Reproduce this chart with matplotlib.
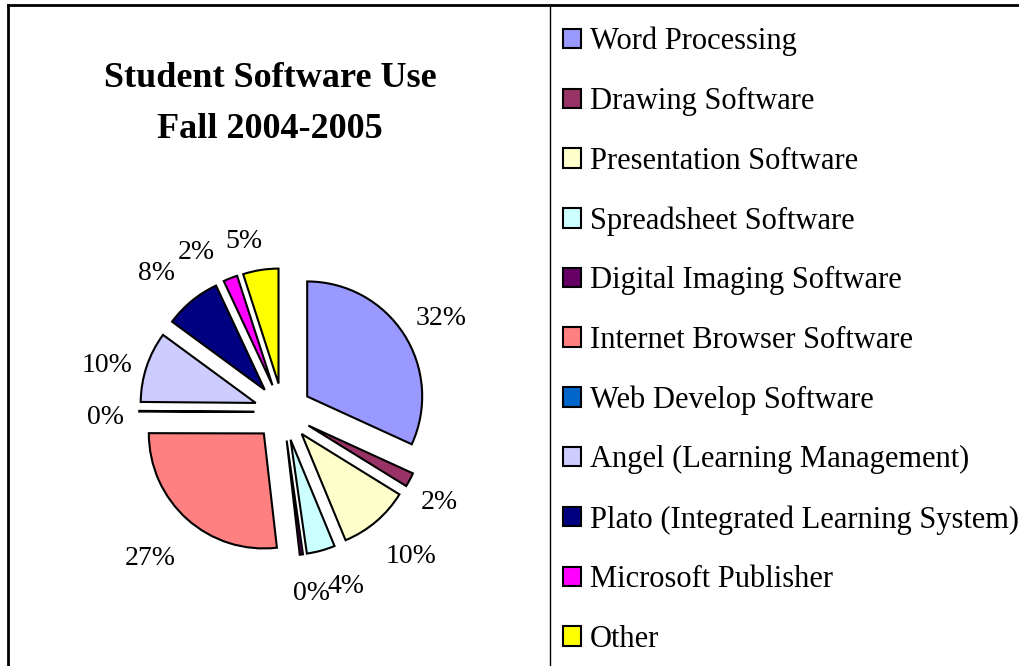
import matplotlib.pyplot as plt
import numpy as np
from matplotlib.patches import Patch
from matplotlib.lines import Line2D

# data (percent of use)
categories = ['Word Processing', 'Drawing Software', 'Presentation Software',
              'Spreadsheet Software', 'Digital Imaging Software',
              'Internet Browser Software', 'Web Develop Software',
              'Angel (Learning Management)', 'Plato (Integrated Learning System)',
              'Microsoft Publisher', 'Other']
shares = [32, 2, 10, 4, 0.45, 27, 0.1, 10, 8, 2, 5]
colors = ['#9999FF', '#993366', '#FFFFCC', '#CCFFFF', '#660066', '#FF8080',
          '#0066CC', '#CCCCFF', '#000080', '#FF00FF', '#FFFF00']
title_lines = ['Student Software Use', 'Fall 2004-2005']
# label placement as Excel did it: angle shift (deg) and distance (radii)
label_nudge = [-2, -2, 1, 4.5, 1.5, -0.5, 2, 3.5, 3, 7, 4]
label_dist = [1.60, 1.57, 1.68, 1.61, 1.60, 1.72, 1.54, 1.58, 1.63, 1.58, 1.52]

plt.rcParams['font.family'] = ['Liberation Serif', 'DejaVu Serif']

W, H = 1020, 666
R = 115.0          # pie radius, px
cx, cy = 283, 412  # pie centre, px from top-left

fig = plt.figure(figsize=(W / 100, H / 100), dpi=100)
ax = fig.add_axes([8 / W, 0, (550 - 8) / W, (H - 5) / H])
wedges, _ = ax.pie(shares, colors=colors, startangle=90, counterclock=False,
                   explode=[0.25] * len(shares),
                   wedgeprops=dict(edgecolor='black', linewidth=1.5,
                                   joinstyle='miter'))
ax.set_aspect('auto')
ax.set_xlim((8 - cx) / R, (550 - cx) / R)
ax.set_ylim((cy - H) / R, (cy - 5) / R)
ax.axis('off')

total = sum(shares)
for w, v, nd, d in zip(wedges, shares, label_nudge, label_dist):
    mid = np.deg2rad((w.theta1 + w.theta2) / 2 + nd)
    ax.text(d * np.cos(mid), d * np.sin(mid), f"{round(v / total * 100):.0f}%",
            ha='center', va='center', fontsize=20)

# title
fig.text(270 / W, 1 - 87 / H, title_lines[0], ha='center', va='baseline',
         fontsize=26, weight='bold')
fig.text(270 / W, 1 - 138 / H, title_lines[1], ha='center', va='baseline',
         fontsize=26, weight='bold')

# legend
handles = [Patch(facecolor=c, edgecolor='black', linewidth=1.5) for c in colors]
fig.legend(handles, categories, loc='upper left',
           bbox_to_anchor=(563 / W, 1 - 27 / H), frameon=False,
           borderaxespad=0, borderpad=0, fontsize=22,
           handlelength=0.6, handleheight=0.6, handletextpad=0.27,
           labelspacing=1.0)

# chart border + legend box edge
fig.add_artist(Line2D([8 / W, 1], [1 - 5 / H, 1 - 5 / H], color='black', lw=2,
                      transform=fig.transFigure))
fig.add_artist(Line2D([8 / W, 8 / W], [0, 1 - 5 / H], color='black', lw=2,
                      transform=fig.transFigure))
fig.add_artist(Line2D([550 / W, 550 / W], [0, 1 - 5 / H], color='black', lw=1,
                      transform=fig.transFigure))

fig.savefig('out.png', dpi=100)
